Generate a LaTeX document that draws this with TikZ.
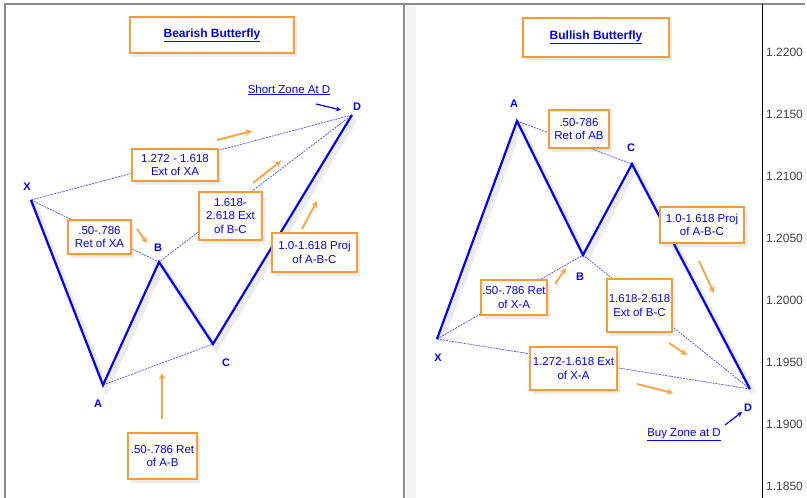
\documentclass[tikz,border=0pt]{standalone}
\usepackage{fontspec}
\setmainfont{Liberation Sans}
\usepackage{xcolor}
\usepackage{tikz}
\usetikzlibrary{arrows, shadows}
\definecolor{boxorange}{RGB}{255,153,51}
\definecolor{hintorange}{RGB}{255,160,60}
\definecolor{zigblue}{RGB}{0,0,255}
\definecolor{dashblue}{RGB}{90,90,255}
\definecolor{framegray}{RGB}{140,140,140}
\tikzstyle{fibbox} = [rectangle, draw=boxorange, line width=1.2pt, fill=white, text=zigblue, align=center, inner sep=1pt, font=\fontsize{11.5}{13.5}\selectfont, drop shadow={opacity=0.15, shadow xshift=3pt, shadow yshift=-4pt}]
\tikzstyle{titlebox} = [fibbox, font=\fontsize{12}{14}\selectfont\bfseries]
\tikzstyle{ptlabel} = [text=zigblue, font=\fontsize{11}{13}\selectfont\bfseries]
\tikzstyle{zonetext} = [text=zigblue, font=\fontsize{11.5}{13}\selectfont]
\tikzstyle{leg} = [draw=zigblue, line width=2.2pt, line join=miter]
\tikzstyle{legshadow} = [draw=gray, opacity=0.15, line width=6pt, transform canvas={xshift=3pt, yshift=-4pt}]
\tikzstyle{ratio} = [draw=dashblue, line width=0.8pt, dash pattern=on 2pt off 1pt]
\tikzstyle{hint} = [draw=hintorange, line width=1.8pt, ->, >=stealth]
\tikzstyle{zone} = [draw=zigblue, line width=1.2pt, ->, >=stealth]
\tikzstyle{price} = [text=black!75, font=\fontsize{12}{14}\selectfont, anchor=west, inner sep=0pt]

\begin{document}
\begin{tikzpicture}[x=1pt, y=-1pt]
    \useasboundingbox (0,0) rectangle (807,498);

    % Frame
    \fill[gray!8] (406,5) rectangle (416,498);
    \draw[framegray, line width=1.5pt] (5,498) -- (5,4) -- (805,4);
    \draw[framegray, line width=1.5pt] (404,4) -- (404,498);
    \draw[black, line width=0.8pt] (762,4) -- (762,498);

    % Price axis
    \foreach \p [count=\i from 0] in {1.2200, 1.2150, 1.2100, 1.2050, 1.2000, 1.1950, 1.1900, 1.1850}
        \node (price\i) [price] at (766, 52.5+62*\i) {\p};

    % Bearish points
    \coordinate (lX) at (31,200);
    \coordinate (lA) at (103,385);
    \coordinate (lB) at (159,262);
    \coordinate (lC) at (213,344);
    \coordinate (lD) at (352,115);

    % Bullish points
    \coordinate (rX) at (437,339);
    \coordinate (rA) at (517,121);
    \coordinate (rB) at (583,255);
    \coordinate (rC) at (632,164);
    \coordinate (rD) at (750,389);

    % Legs
    \draw [legshadow] (lX) -- (lA) -- (lB) -- (lC) -- (lD);
    \draw [legshadow] (rX) -- (rA) -- (rB) -- (rC) -- (rD);
    \draw [ratio] (lX) -- (lD);
    \draw [ratio] (lX) -- (lB) -- (lD);
    \draw [ratio] (lA) -- (lC);
    \draw [ratio] (rA) -- (rC);
    \draw [ratio] (rX) -- (rB) -- (rD);
    \draw [ratio] (rX) -- (rD);
    \draw [leg] (lX) -- (lA) -- (lB) -- (lC) -- (lD);
    \draw [leg] (rX) -- (rA) -- (rB) -- (rC) -- (rD);

    % Point labels
    \node (lXl) [ptlabel] at (27,187) {X};
    \node (lAl) [ptlabel] at (98,404) {A};
    \node (lBl) [ptlabel] at (158,248) {B};
    \node (lCl) [ptlabel] at (226,363) {C};
    \node (lDl) [ptlabel] at (357,107) {D};
    \node (rXl) [ptlabel] at (438,358) {X};
    \node (rAl) [ptlabel] at (514,104) {A};
    \node (rBl) [ptlabel] at (580,277) {B};
    \node (rCl) [ptlabel] at (631,148) {C};
    \node (rDl) [ptlabel] at (748,408) {D};

    % Titles
    \node (ltitle) [titlebox, minimum width=164pt, minimum height=36pt] at (212,35) {\underline{Bearish Butterfly}};
    \node (rtitle) [titlebox, minimum width=146pt, minimum height=39pt] at (596,37.5) {\underline{Bullish Butterfly}};

    % Bearish boxes
    \node (lxd) [fibbox, minimum width=86pt, minimum height=32pt] at (175,165) {1.272 - 1.618\\Ext of XA};
    \node (lxb) [fibbox, minimum width=63pt, minimum height=34pt] at (99.5,237) {.50-.786\\Ret of XA};
    \node (lbd) [fibbox, minimum width=63pt, minimum height=48pt] at (230.5,216) {1.618-\\2.618 Ext\\of B-C};
    \node (lcd) [fibbox, minimum width=85pt, minimum height=39pt] at (314.5,252.5) {1.0-1.618 Proj\\of A-B-C};
    \node (lac) [fibbox, minimum width=69pt, minimum height=46pt] at (162.5,456) {.50-.786 Ret\\of A-B};

    % Bullish boxes
    \node (rac) [fibbox, minimum width=60pt, minimum height=38pt] at (579,129) {.50-786\\Ret of AB};
    \node (rcd) [fibbox, minimum width=84pt, minimum height=36pt] at (702,225) {1.0-1.618 Proj\\of A-B-C};
    \node (rxb) [fibbox, minimum width=66pt, minimum height=35pt] at (514,297.5) {.50-.786 Ret\\of X-A};
    \node (rbd) [fibbox, minimum width=65pt, minimum height=53pt] at (639.5,305.5) {1.618-2.618\\Ext of B-C};
    \node (rxd) [fibbox, minimum width=87pt, minimum height=43pt] at (573.5,368.5) {1.272-1.618 Ext\\of X-A};

    % Zones
    \node (lzone) [zonetext] at (289,90) {\underline{Short Zone At D}};
    \node (rzone) [zonetext] at (684,435) {\underline{Buy Zone at D}};
    \coordinate (lz1) at (316,104);
    \coordinate (lz2) at (341,110);
    \coordinate (rz1) at (725,425);
    \coordinate (rz2) at (742,412);
    \draw [zone] (lz1) -- (lz2);
    \draw [zone] (rz1) -- (rz2);

    % Orange hints
    \coordinate (lh1a) at (217,140); \coordinate (lh1b) at (252,131);
    \coordinate (lh2a) at (253,183); \coordinate (lh2b) at (281,161);
    \coordinate (lh3a) at (302,229); \coordinate (lh3b) at (317,201);
    \coordinate (lh4a) at (137,229); \coordinate (lh4b) at (147,243);
    \coordinate (lh5a) at (162,419); \coordinate (lh5b) at (162,373);
    \coordinate (rh1a) at (555,284); \coordinate (rh1b) at (566,268);
    \coordinate (rh2a) at (699,261); \coordinate (rh2b) at (714,293);
    \coordinate (rh3a) at (669,343); \coordinate (rh3b) at (687,355);
    \coordinate (rh4a) at (637,384); \coordinate (rh4b) at (673,393);
    \foreach \h in {lh1, lh2, lh3, lh4, lh5, rh1, rh2, rh3, rh4}
        \draw [hint] (\h a) -- (\h b);
\end{tikzpicture}
\end{document}
